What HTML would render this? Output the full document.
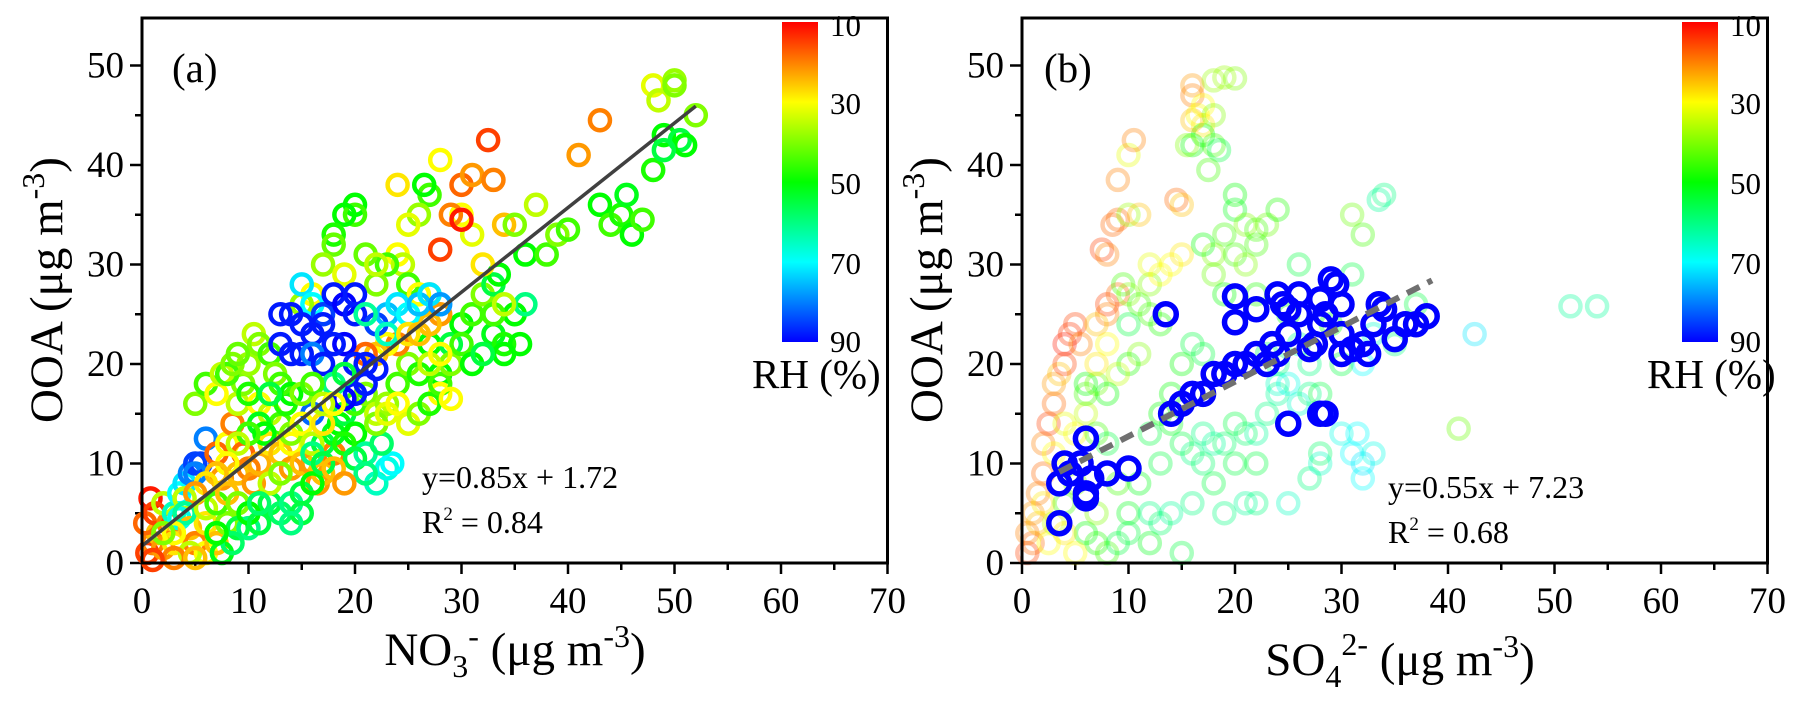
<!DOCTYPE html>
<html><head><meta charset="utf-8"><style>
html,body{margin:0;padding:0;background:#fff}
svg, svg text{font-family:"Liberation Serif","Times New Roman",serif !important}
</style></head><body>
<svg id="chart" width="1802" height="704" viewBox="0 0 1802 704" xmlns="http://www.w3.org/2000/svg" font-family="Liberation Serif, serif">
<defs>
<linearGradient id="cb" x1="0" y1="0" x2="0" y2="1">
<stop offset="0" stop-color="hsl(0,100%,50%)"/><stop offset="0.25" stop-color="hsl(60,100%,50%)"/><stop offset="0.5" stop-color="hsl(120,100%,50%)"/><stop offset="0.75" stop-color="hsl(180,100%,50%)"/><stop offset="1" stop-color="hsl(240,100%,50%)"/>
</linearGradient>
</defs>
<g id="pa"></g>
<g id="pb"></g>
</svg>
<script>
// Panel (a): NO3- vs OOA, colour = RH
const aX=[0.5,1,0.8,1.5,2,0.3,1.2,2.5,3,2,3,3.5,4,4.5,5,5.5,5,4,3.5,4.5,5,6,6,7,7.5,8,9,10,6,7,7.5,8,8.5,9,9.5,10,10.5,11,9,9.5,10,10.5,11,12,12.5,11,12,13,13.5,12,13,14,14,15,16,16.5,17,18,12,13,14,15,16,17,18,18.5,19,20,21,22,23,23.5,22.5,20,21,22,23,24,25,26,27,28,28,29,30,31,32,33,33,34,34,35,35.5,36,33,34,33.5,32,31,30,29,30,31,32.5,33,34,28,27,26.5,26,25,24,24,24.5,23,22,25,26,27,28,27,28,30,24,23,22,21,20,20,19,18,18,17,19,21,22,16,15,15,16,17,18,17,19,20,20,19,18,16,15,14,13,13,14,15,16,17,20,21,22,21,20,19,16,22,23,24,25,26,27,28,23,21,18,19,22,23,24,25,26,27,28,29,30,31,32,27,25,26,28,29,35,36,37,38,39,40,41,43,43,44,45,45.5,46,47,48,48,48.5,49,50,50.5,51,52,49,50,5,6,7,7.5,8,8.5,9,10,11,11.5,10,9,8,7,6,5,4,3,6,7,8,9,10,11,8.5,4.5,3,5,7,2,1,14,15,16,17,13,14,12,15,16,17,18,19,20,21,12,13,15,14,11,16,17,18,19];
const aY=[1,2,6.5,3,1.5,4,5,4,2,6,5,7,8,9,10,10,9,6.5,4.5,3.5,2,4,1,2,1,4,3.5,3.5,12.5,11,8.5,12,14,9,11,9.5,8,10,16,18,20,23,22,21,19,16,15,14,16,12,11,12,9.5,10,10,8,9,11,6,5,6,7,8,12,13,14,15,13,11,8,9.5,10,12,16,17,15,16,18,20,19,22,19,17,22,24,25,27,28,23,22,21,25,22,26,25,26,29,30,33,35,35,38,39,42.5,38.5,34,40.5,37,38,35,34,38,31,30,30,28,28,27,27,25,24,31.5,34.5,22,22,21,21,36,35,35,33,32,30,29,31,30,27,26,28,26,25,27,24,26,27,25,22,22,23,24,25,25,22,21,21,21,20,20,20,19.5,18,17,16.5,15,24,25,26,25,26,27,26,23,25,18,19,14,15,16,14,15,16,18,20,22,20,21,20,23,23,21,16.5,34,31,36,31,33,33.5,41,44.5,36,34,35,37,33,34.5,39.5,48,46.5,43,48.5,42.5,42,45,41.5,48,16,18,17,19,19,20,21,17,14,13,13,12,10,9,8,7,5,3,5.5,6,7,6,5,4,2,1,0.5,0.5,3,3,0.3,13,14,12,14,18,17,17,17,18,16,16,12,10.5,9,8,9,5,4,6,11,10,9.5,8];
const aRH=[15,20,12,25,22,18,15,20,28,35,65,70,72,80,85,85,80,35,68,25,20,28,30,25,52,40,55,60,80,18,22,30,20,25,18,20,22,24,35,40,38,35,40,45,40,30,35,45,48,28,25,30,22,25,22,22,25,20,55,58,60,55,50,55,52,50,55,50,62,65,68,70,58,45,40,35,38,45,40,48,50,50,30,55,50,45,40,55,52,48,50,50,50,60,45,35,50,28,32,30,20,18,22,15,20,25,30,45,50,38,32,28,30,35,45,40,45,30,28,22,25,15,12,20,30,25,18,50,45,50,48,42,38,32,42,35,30,38,72,70,85,88,88,90,88,88,90,88,88,88,88,88,88,88,88,80,88,88,88,88,88,88,90,82,85,75,72,70,75,72,78,65,62,60,55,40,32,30,32,40,48,45,40,45,50,55,35,28,25,30,30,40,50,35,45,40,45,22,20,50,45,48,52,50,45,48,32,35,50,38,55,50,40,55,40,40,45,30,35,45,40,42,48,52,50,45,35,30,25,28,22,62,30,35,45,25,40,50,55,58,35,20,25,50,40,15,40,30,35,28,45,50,55,40,45,35,30,48,55,60,35,40,55,60,58,60,55,25,22];
const aFit=[0.85,1.72], aFitRange=[0,52];
// Panel (b): SO4 2- vs OOA
const bX=[0.5,0.5,1,1,1.5,1.5,2,2,2.5,2,3,3,3.5,4,4,4.5,5,5.5,3,4,2.5,3,4,5,5,6,6,6,7,7,8,8,7,8,9,9.5,10,10,11,12,12,13,11,10,9,8,7,8,9,10,6,7,8,9,7,5,4,7.5,8,8.5,9,9,10,10.5,10,11,12,13,14,14.5,15,15,16,16,16.5,17,17,18,18.5,17.5,16,15.5,16,17,18,19,20,18,20,20,21,22,23,24,22,19,18,17,18,19,20,21,22,16,15,17,18,14,13,14,12,15,16,17,18,19,21,25,16,14,13,12,11,13,17,18,19,20,21,22,23,24,24,25,26,27,27,28,28,30,31,31.5,32,32,33,32,33,32,31,34,33.5,31,26,25,24,28,20,22,41,42.5,51.5,54,35,36,37,29,30,23,26,27,22,10,12,15];
const bY=[1,3,5,2,7,4,9,12,14,6,16,18,19,20,22,23,24,22,11,14,2,4,6,8,13,15,17,18,18,20,22,25,24,26,27,28,27,24,26,28,25,24,21,20,19,17,13,12,8,5,3,2,1,2,5,1,3,31.5,31,34,34.5,38.5,41,42.5,35,35,30,29,30,36.5,36,31,48,47,45,44,43,42,41.5,39.5,42,42,44.5,46,48.5,48.8,48.7,45,37,35.5,34,33.5,34,35.5,32,33,31,32,29,27,31,30,27,22,20,21,19,17,15,14,13,12,11,10,8,5,6,6,6,5,4,5,8,10,13,12,12,14,13,13,15,17,18,18,16,17,8.5,11,10,13,11,13,10,8.5,11,20,23,33,35,37,36.5,29,30,25,20,17,10,10,13.5,23,25.8,25.8,22,24,26,24,20,21,22,20,6,3,2,1];
const bRH=[15,20,22,18,20,25,18,20,15,28,18,22,25,15,12,14,15,20,30,32,30,35,45,40,30,35,45,50,42,28,30,20,25,15,18,45,40,55,45,40,45,48,40,48,35,50,45,55,45,52,50,48,45,55,40,30,28,15,20,18,18,20,32,20,38,25,32,30,30,18,25,28,22,20,30,28,50,45,55,45,50,40,25,30,38,38,40,40,50,52,40,45,42,48,45,45,40,50,42,50,45,40,48,55,50,55,45,50,50,52,55,55,60,58,55,60,62,65,60,62,58,60,52,55,60,62,58,55,58,62,60,62,65,68,66,60,60,58,65,68,70,70,72,70,68,70,66,45,42,60,62,55,55,50,60,55,55,55,42,72,62,62,60,58,55,50,55,58,62,60,60,55,52,55];
const blueX=[3.5,3.5,4,4.5,5.5,6,6,6.5,6,8,10,13.5,15,16,17,18,19,20,20,20,22,23,23.5,24,24.5,25,25,26,26,27,27.5,28,28,28.5,29,29.5,30,30,30,31,32,32.5,33,33.5,34,35,36,37,38,25,28,28.5,24,22,21,14];
const blueY=[4,8,10,9,10,6.5,7,8.5,12.5,9,9.5,25,16,17,17,19,19,20,26.8,24.2,25.5,20,22,27,26,25.5,23,27,25,21.5,22,24,26.5,25,28.5,28,26,23,21,21.5,22,21,24,26,25.5,22.5,24,24,24.8,14,15,15,21,21,20,15];
const blueRH=[90,90,90,90,90,90,90,90,90,90,90,90,90,90,90,90,90,90,90,90,90,90,90,90,90,90,90,90,90,90,90,90,90,90,90,90,90,90,90,90,90,90,90,90,90,90,90,90,90,90,90,90,90,90,90,90];
const bFit=[0.55,7.23], bFitRange=[3.5,38.5];
const xTicks=[0,10,20,30,40,50,60,70];
const yTicks=[0,10,20,30,40,50];
const cbTicks=[10,30,50,70,90];

const NS="http://www.w3.org/2000/svg";
const FF="Liberation Serif, serif";
function mk(tag,attrs,parent){const e=document.createElementNS(NS,tag);for(const k in attrs)e.setAttribute(k,attrs[k]);parent.appendChild(e);return e;}
function color(rh){const t=Math.max(0,Math.min(1,(rh-10)/80));return "hsl("+(t*240)+",100%,50%)";}

function panel(g,L){
  const R=L+745.5,T=18,B=563;
  const sx=v=>L+v*(R-L)/70, sy=v=>B-v*9.95;
  for(let v=0;v<=70;v+=5){const maj=v%10===0;
    const t=mk('line',{x1:sx(v),x2:sx(v),y1:B,y2:B+(maj?11:7),stroke:'#000','stroke-width':2.5},g);
    
    }
  xTicks.forEach(v=>{const t=mk('text',{x:sx(v),y:613,'text-anchor':'middle','font-size':37,'font-family':FF},g);t.textContent=v;
    
    });
  for(let v=0;v<=54;v+=5){const maj=v%10===0;
    const t=mk('line',{x1:L-(maj?12:7),x2:L,y1:sy(v),y2:sy(v),stroke:'#000','stroke-width':2.5},g);
    
    }
  yTicks.forEach(v=>{const t=mk('text',{x:L-18,y:sy(v)+12,'text-anchor':'end','font-size':37,'font-family':FF},g);t.textContent=v;
    
    });
  return {sx,sy,R,T,B};
}

function drawPoints(g,ax,xs,ys,rhs,op,sw,r,name){
  xs.forEach((x,i)=>{const c=mk('circle',{cx:ax.sx(x),cy:ax.sy(ys[i]),r:r,fill:'none',stroke:color(rhs[i]),'stroke-width':sw,'stroke-opacity':op},g);
    
    });
}

function decor(g,L,ax,label,cbX,fit,fitR,dashed){
  const f=mk('line',{x1:ax.sx(fitR[0]),y1:ax.sy(fit[0]*fitR[0]+fit[1]),x2:ax.sx(fitR[1]),y2:ax.sy(fit[0]*fitR[1]+fit[1]),stroke:dashed?'#707070':'#404040','stroke-width':dashed?6:3.5,'stroke-dasharray':dashed?'14 9':'none'},g);
  
  
  const fr=mk('rect',{x:L,y:ax.T,width:ax.R-L,height:ax.B-ax.T,fill:'none',stroke:'#000','stroke-width':3},g);
  
  
  const cb=mk('rect',{x:cbX,y:22,width:36,height:320,fill:'url(#cb)'},g);
  
  
  cbTicks.forEach(v=>{const t=mk('text',{x:cbX+48,y:22+(v-10)/80*320+(v===10?14:v===90?10:12),'font-size':31,'font-family':FF},g);t.textContent=v;
    
    });
  const pl=mk('text',{x:L+(label==='(a)'?30:22),y:82,'font-size':41,'font-family':FF},g);pl.textContent=label;
  
  
}

const ga=document.getElementById('pa'), gb=document.getElementById('pb');
const A=panel(ga,142), Bx=panel(gb,1022);
drawPoints(ga,A,aX,aY,aRH,1,4.5,10,'point-a');
drawPoints(gb,Bx,bX,bY,bRH,0.33,4.5,10,'point-b');
drawPoints(gb,Bx,blueX,blueY,blueRH,1,5.5,10.5,'point-b-high-rh');
decor(ga,142,A,'(a)',782,aFit,aFitRange,false);
decor(gb,1022,Bx,'(b)',1682,bFit,bFitRange,true);
</script>
<script>
const s=document.getElementById('chart');
s.insertAdjacentHTML('beforeend',`
<g font-family="Liberation Serif, serif">
<text x="752" y="388" font-size="41">RH (%)</text>
<text x="1647" y="388" font-size="41">RH (%)</text>
<text x="422" y="488" font-size="32">y=0.85x + 1.72</text>
<text x="422" y="533" font-size="32">R<tspan font-size="19" dy="-13">2</tspan><tspan dy="13"> = 0.84</tspan></text>
<text x="1388" y="498" font-size="32">y=0.55x + 7.23</text>
<text x="1388" y="543" font-size="32">R<tspan font-size="19" dy="-13">2</tspan><tspan dy="13"> = 0.68</tspan></text>
<text x="515" y="665" text-anchor="middle" font-size="47">NO<tspan font-size="32" dy="12">3</tspan><tspan font-size="32" dy="-30">-</tspan><tspan font-size="47" dy="18"> (μg m</tspan><tspan font-size="32" dy="-18">-3</tspan><tspan font-size="47" dy="18">)</tspan></text>
<text x="1400" y="675" text-anchor="middle" font-size="47">SO<tspan font-size="32" dy="12">4</tspan><tspan font-size="32" dy="-32">2-</tspan><tspan font-size="47" dy="20"> (μg m</tspan><tspan font-size="32" dy="-18">-3</tspan><tspan font-size="47" dy="18">)</tspan></text>
<text transform="translate(62,290) rotate(-90)" text-anchor="middle" font-size="47">OOA (μg m<tspan font-size="32" dy="-18">-3</tspan><tspan dy="18">)</tspan></text>
<text transform="translate(942,290) rotate(-90)" text-anchor="middle" font-size="47">OOA (μg m<tspan font-size="32" dy="-18">-3</tspan><tspan dy="18">)</tspan></text>
</g>
`);
</script>
</body></html>
